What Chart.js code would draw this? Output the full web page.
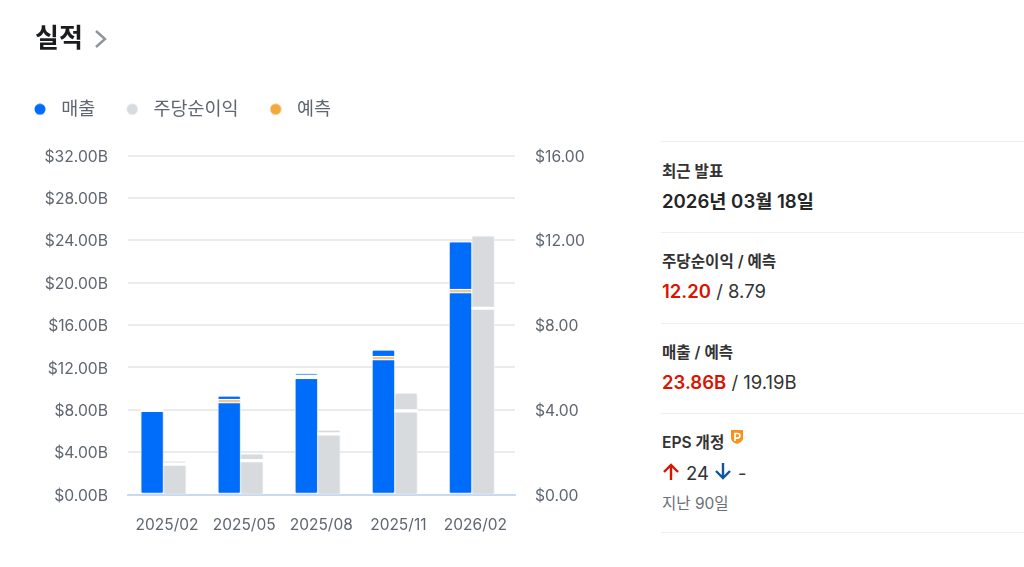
<!DOCTYPE html>
<html lang="ko">
<head>
<meta charset="utf-8">
<title>실적</title>
<script src="https://cdn.jsdelivr.net/npm/chart.js@4"></script>
<style>
  html, body { margin: 0; padding: 0; background: #fff; }
  body { width: 1024px; height: 567px; overflow: hidden; position: relative; font-family: Inter, "Noto Sans CJK KR", sans-serif; color: #232526; }
  #mycanvas { position: absolute; left: 0; top: 0; }
  .abs { position: absolute; white-space: nowrap; line-height: 24px; }
  .rule { position: absolute; left: 661px; right: 0; height: 1px; background: #eceef2; }
  .heading { left: 35px; top: 20px; font-size: 26px; font-weight: 700; line-height: 36px; color: #1a1c1e; }
  .label { left: 662px; font-size: 15.6px; font-weight: 600; color: #333; }
  .date { left: 662px; font-size: 18.6px; font-weight: 600; }
  .value { left: 662px; font-size: 18.5px; color: #333; }
  .value b { color: #d91400; font-weight: 600; }
  .note { left: 662px; font-size: 15.5px; color: #6a7079; }
</style>
</head>
<body>
<canvas id="mycanvas" width="600" height="567"></canvas>

<div class="abs heading">실적</div>
<svg class="abs" style="left:93px;top:29px" width="16" height="20" viewBox="0 0 16 20"><path d="M3 2l9 8-9 8" fill="none" stroke="#8f949b" stroke-width="2.4"/></svg>

<div class="rule" style="top:141px"></div>
<div class="abs label" style="top:160px">최근 발표</div>
<div class="abs date" style="top:189px">2026년 03월 18일</div>
<div class="rule" style="top:232px"></div>
<div class="abs label" style="top:250px">주당순이익 / 예측</div>
<div class="abs value" style="top:279px"><b>12.20</b> / 8.79</div>
<div class="rule" style="top:323px"></div>
<div class="abs label" style="top:341px">매출 / 예측</div>
<div class="abs value" style="top:370px"><b>23.86B</b> / 19.19B</div>
<div class="rule" style="top:413px"></div>
<div class="abs label" style="top:431px">EPS 개정</div>
<svg class="abs" style="left:730px;top:429px" width="14" height="16" viewBox="0 0 14 16"><path d="M1 1h12v8c0 3-3 5-6 6-3-1-6-3-6-6z" fill="#f7921e"/><path d="M5 12V4.5h2.6a2.3 2.3 0 010 4.6H5" fill="none" stroke="#fff" stroke-width="1.7"/></svg>
<svg class="abs" style="left:661px;top:462px" width="20" height="20" viewBox="0 0 20 20"><path d="M10 18V3M3 10l7-7 7 7" fill="none" stroke="#d91400" stroke-width="2.4"/></svg>
<div class="abs value" style="left:686px;top:461px">24</div>
<svg class="abs" style="left:713px;top:461px" width="20" height="20" viewBox="0 0 20 20"><path d="M10 2v15M3 10l7 7 7-7" fill="none" stroke="#0f569c" stroke-width="2.4"/></svg>
<div class="abs value" style="left:738px;top:461px">-</div>
<div class="abs note" style="top:492px">지난 90일</div>
<div class="rule" style="top:532px"></div>

<script>
var periods = ["2025/02", "2025/05", "2025/08", "2025/11", "2026/02"];
var revenue = [8.05, 9.30, 11.42, 13.64, 23.86];
var revenue_forecast = [8.0, 8.82, 11.1, 12.87, 19.19];
var eps = [1.56, 1.91, 3.03, 4.78, 12.20];
var eps_forecast = [1.43, 1.60, 2.86, 3.95, 8.79];

var BLUE = "#006cfa", GREY = "#d8dbde", ORANGE = "#f5a83c", TEXT = "#5f6670";
var font = "Inter, 'Noto Sans CJK KR', sans-serif";

function bars(values) {
  return values.map(function (v, i) { return { x: i, y: v }; });
}
// thin floating bar that sits on the forecast value
function markers(values, half) {
  return values.map(function (v, i) { return { x: i, y: [v - half, v + half] }; });
}
// legend dot, a plain circle stretches when pointStyleWidth is set
function dot(color) {
  var c = document.createElement("canvas");
  c.width = 12; c.height = 12;
  var g = c.getContext("2d");
  g.fillStyle = color;
  g.beginPath(); g.arc(6, 6, 5.5, 0, Math.PI * 2); g.fill();
  return c;
}

var barStyle = { barThickness: 22.6, borderWidth: 1, borderRadius: 2, borderSkipped: false, order: 2 };
var markStyle = { barThickness: 22.6, borderWidth: { top: 1.2, bottom: 1.2, left: 1, right: 1 }, borderColor: "#fff", borderSkipped: false, order: 1 };

var chartdata = {
  datasets: [
    Object.assign({ label: "매출", data: bars(revenue), backgroundColor: BLUE, borderColor: "#d5e5fe", yAxisID: "y", stack: "rev" }, barStyle),
    Object.assign({ label: "주당순이익", data: bars(eps), backgroundColor: GREY, borderColor: "#eef0f1", yAxisID: "y1", stack: "eps" }, barStyle),
    Object.assign({
      label: "예측",
      data: markers(revenue_forecast, 0.19),
      // marker is only orange when it is clear of the top of the bar
      backgroundColor: function (c) { return revenue[c.dataIndex] - revenue_forecast[c.dataIndex] > 0.4 ? "#f8c684" : "#fff"; },
      yAxisID: "y",
      stack: "rev"
    }, markStyle),
    Object.assign({ label: "예측", data: markers(eps_forecast, 0.06), backgroundColor: "#fff", yAxisID: "y1", stack: "eps" }, markStyle, { borderWidth: 0 })
  ]
};

// legend sits further from the plot than its padding gives
var legendGap = {
  id: "legendGap",
  beforeInit: function (chart) {
    var fit = chart.legend.fit;
    chart.legend.fit = function () { fit.call(this); this.height += 27; };
  }
};

var legendColors = [BLUE, GREY, ORANGE];

new Chart(document.getElementById("mycanvas"), {
  type: "bar",
  data: chartdata,
  plugins: [legendGap],
  options: {
    responsive: false,
    animation: { duration: 0 },
    layout: { padding: { top: 75, left: 3 } },
    plugins: {
      tooltip: { enabled: false },
      legend: {
        position: "top",
        align: "start",
        labels: {
          usePointStyle: true,
          pointStyleWidth: 24,
          boxHeight: 8,
          padding: 25,
          color: TEXT,
          font: { family: font, size: 18.5 },
          generateLabels: function (chart) {
            var items = Chart.defaults.plugins.legend.labels.generateLabels(chart);
            items.sort(function (a, b) { return a.datasetIndex - b.datasetIndex; });
            items = items.slice(0, 3);
            items.forEach(function (it, i) {
              it.pointStyle = dot(legendColors[i]);
              it.lineWidth = 0;
            });
            return items;
          }
        }
      }
    },
    scales: {
      x: {
        type: "linear",
        stacked: true,
        offset: false,
        min: -0.46,
        max: 4.56,
        grid: { display: false, offset: false },
        border: { color: "#c9d9f2", width: 2 },
        afterBuildTicks: function (axis) { axis.ticks = periods.map(function (p, i) { return { value: i }; }); },
        afterFit: function (axis) { axis.height = 72.5; },
        ticks: {
          color: TEXT,
          padding: 14,
          labelOffset: 3.6,
          maxRotation: 0,
          autoSkip: false,
          font: { family: font, size: 15.5 },
          callback: function (v) { return periods[v]; }
        }
      },
      y: {
        position: "left",
        stacked: false,
        min: 0,
        max: 32,
        grid: { color: "#e9ebee", lineWidth: 2, drawTicks: false },
        border: { display: false },
        afterFit: function (axis) { axis.width = 125; },
        ticks: {
          stepSize: 4,
          color: TEXT,
          padding: 20,
          labelOffset: 1.5,
          font: { family: font, size: 15.7 },
          callback: function (v) { return "$" + v.toFixed(2) + "B"; }
        }
      },
      y1: {
        position: "right",
        stacked: false,
        min: 0,
        max: 16,
        grid: { display: false },
        border: { display: false },
        afterFit: function (axis) { axis.width = 85; },
        ticks: {
          stepSize: 4,
          color: TEXT,
          padding: 12,
          labelOffset: 1.5,
          font: { family: font, size: 15.7 },
          callback: function (v) { return "$" + v.toFixed(2); }
        }
      }
    }
  }
});
</script>
</body>
</html>
